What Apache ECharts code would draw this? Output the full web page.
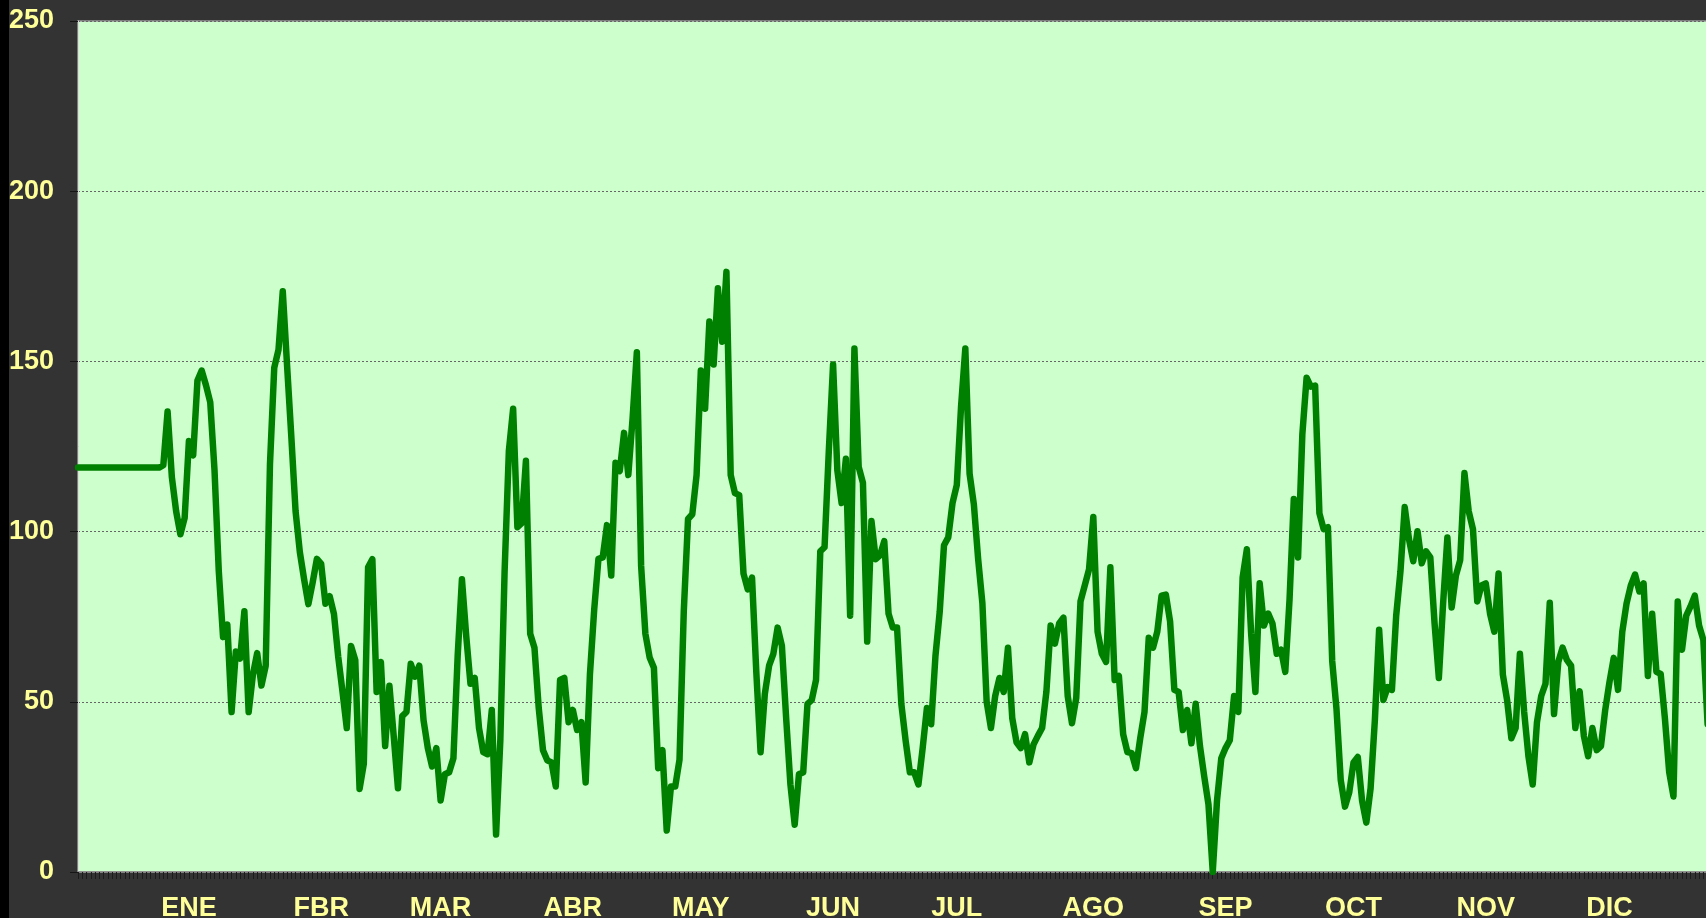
<!DOCTYPE html>
<html>
<head>
<meta charset="utf-8">
<script src="https://cdn.jsdelivr.net/npm/echarts@6/dist/echarts.min.js"></script>
<style>
  html, body { margin: 0; padding: 0; background: #333333; }
  #main { width: 1706px; height: 918px; }
</style>
</head>
<body>
<div id="main"></div>
<script>
// month names and the day index where each label sits
var months = ['ENE', 'FBR', 'MAR', 'ABR', 'MAY', 'JUN', 'JUL', 'AGO', 'SEP', 'OCT', 'NOV', 'DIC'];
var monthIdx = [26, 57, 85, 116, 146, 177, 206, 238, 269, 299, 330, 359];

// daily values
var values = [
  118.8, 118.8, 118.8, 118.8, 118.8, 118.8, 118.8, 118.8, 118.8, 118.8,
  118.8, 118.8, 118.8, 118.8, 118.8, 118.8, 118.8, 118.8, 118.8, 118.8,
  119.5, 135.3, 116, 106, 99.2, 104, 126.6, 122.4, 144.4, 147.3, 143, 138, 118, 88.4, 69, 72.7, 47, 64.8, 62.7, 76.6,
  47, 58, 64.3, 54.8, 60.6, 119.8, 148.1, 153.4, 170.6, 149, 128, 106, 94, 86, 78.7, 85, 92, 90.5, 78.8, 81,
  75.8, 63.2, 53, 42.3, 66.4, 62.2, 24.4, 31.8, 89.5, 91.9, 52.9, 61.7, 37, 54.7, 40, 24.6, 45.8, 47, 61.2, 57.4,
  60.6, 44.6, 36.4, 31, 36.4, 21, 28.7, 29.3, 33.4, 63.5, 86, 69.4, 55.3, 57, 42.3, 35.2, 34.6, 47.6, 11, 38.7,
  88.3, 123.7, 136.1, 101.3, 102.5, 120.8, 70, 65.9, 48.2, 35.8, 32.8, 32.2, 25.1, 56.4, 57, 44, 47.6, 41.7, 44, 26.3,
  58, 77, 92, 92.4, 101.9, 87.1, 120.2, 117.8, 129, 116.6, 133.2, 152.7, 90, 70, 63, 60, 30.5, 35.8, 12.2, 25.1,
  25.1, 33, 76.5, 103.7, 105.1, 116.6, 147.3, 136.1, 161.7, 149.1, 171.5, 155.8, 176.3, 116.6, 111.3, 110.7, 87.7, 83, 86.5, 58.8,
  35.2, 52.3, 60.6, 64.1, 71.8, 66.5, 45.2, 25.7, 13.9, 28.7, 29.3, 49.4, 50.5, 56.4, 94.2, 95.4, 123.7, 149.1, 118, 108.4,
  121.4, 75.3, 153.8, 119, 114.3, 67.7, 103.1, 91.9, 93, 97.2, 75.9, 71.8, 71.8, 49.4, 38.7, 29.3, 29.3, 25.7, 36.4, 48.2,
  43.4, 63.5, 76.5, 96, 98.3, 108.4, 113.7, 136.7, 153.8, 117, 108, 92, 79, 50, 42.3, 51.7, 57, 52.9, 65.9, 45.2,
  38.1, 36.4, 40.5, 32.2, 37.5, 40, 42.3, 52.9, 72.4, 67.1, 73, 74.7, 51.7, 43.7, 51.1, 79.5, 84.2, 88.9, 104.3, 70.6,
  64.1, 61.7, 89.5, 56.4, 57.6, 40.5, 35.2, 34.9, 30.5, 39.3, 47, 68.8, 65.9, 70.6, 81.2, 81.5, 73.6, 53.5, 52.9, 41.7,
  47.6, 37.8, 49.4, 37, 28.1, 19.8, 0, 21, 33.4, 36.4, 38.7, 51.7, 47, 86.5, 94.8, 70, 52.9, 84.8, 72.4, 75.9,
  73, 64.1, 65.3, 58.8, 80, 109.6, 92.4, 128.5, 145.2, 142.6, 142.9, 105.4, 100.7, 101.3, 62, 48, 27, 19.2, 23.4, 32.2,
  33.8, 21, 14.5, 24.6, 44.6, 71.2, 50.5, 54.3, 53.5, 75.3, 88.3, 107.2, 97.8, 91.3, 100.1, 90.7, 94.2, 92.4, 73, 57,
  78.9, 98.3, 77.7, 87.1, 91.6, 117.2, 106, 100.7, 79.5, 84.2, 84.8, 75.9, 70.6, 87.7, 58, 50.5, 39.3, 42.3, 64.1, 47,
  34, 25.7, 44, 51.7, 55.3, 79.1, 46.4, 61.7, 65.9, 62.3, 60.6, 42.3, 53.1, 39.9, 34, 42.3, 35.8, 37, 47.6, 55.8,
  62.9, 53.5, 70.6, 78.9, 84.2, 87.4, 82.4, 84.8, 57.6, 75.9, 58.8, 58.2, 45, 29.3, 22.2, 79.5, 65.3, 75.3, 78, 81.2,
  72.4, 68.2, 43.4
];

var yTicks = [0, 50, 100, 150, 200, 250];

var days = values.map(function (v, i) { return String(i); });
var labelFont = {
  color: '#ffff99',
  fontSize: 27,
  fontWeight: 'bold',
  fontFamily: 'Liberation Sans, Arial, sans-serif'
};

var chart = echarts.init(document.getElementById('main'));
chart.setOption({
  backgroundColor: '#333333',
  animation: false,
  graphic: [{
    type: 'rect',
    shape: { x: 0, y: 0, width: 9, height: 918 },
    style: { fill: '#000' },
    z: 100
  }],
  grid: {
    left: 78,
    top: 21,
    right: -1.6,
    bottom: 46,
    outerBoundsMode: 'none',
    containLabel: false,
    show: true,
    backgroundColor: '#ccffcc',
    borderColor: '#999',
    borderWidth: 1.5
  },
  xAxis: {
    type: 'category',
    data: days,
    boundaryGap: false,
    axisLine: { show: true, lineStyle: { color: '#888', width: 1.5 } },
    axisTick: {
      show: true,
      interval: 0,
      length: 7,
      lineStyle: { color: '#1c1c1c', width: 1 }
    },
    axisLabel: Object.assign({
      interval: function (idx) { return monthIdx.indexOf(idx) >= 0; },
      formatter: function (val, idx) {
        var k = monthIdx.indexOf(Number(val));
        return k >= 0 ? months[k] : '';
      },
      margin: 23
    }, labelFont),
    splitLine: { show: false }
  },
  yAxis: {
    type: 'value',
    min: yTicks[0],
    max: yTicks[yTicks.length - 1],
    interval: 50,
    axisLine: { show: true, lineStyle: { color: '#ddd', width: 1 } },
    axisTick: { show: true, length: 8, lineStyle: { color: '#151515', width: 1 } },
    axisLabel: Object.assign({ margin: 24 }, labelFont),
    splitLine: {
      show: true,
      lineStyle: { color: '#666', width: 1, type: [2, 2] }
    }
  },
  series: [{
    type: 'line',
    data: values,
    showSymbol: false,
    lineStyle: { color: '#008000', width: 6.5, join: 'round', cap: 'round' },
    itemStyle: { color: '#008000' }
  }]
});
</script>
</body>
</html>
